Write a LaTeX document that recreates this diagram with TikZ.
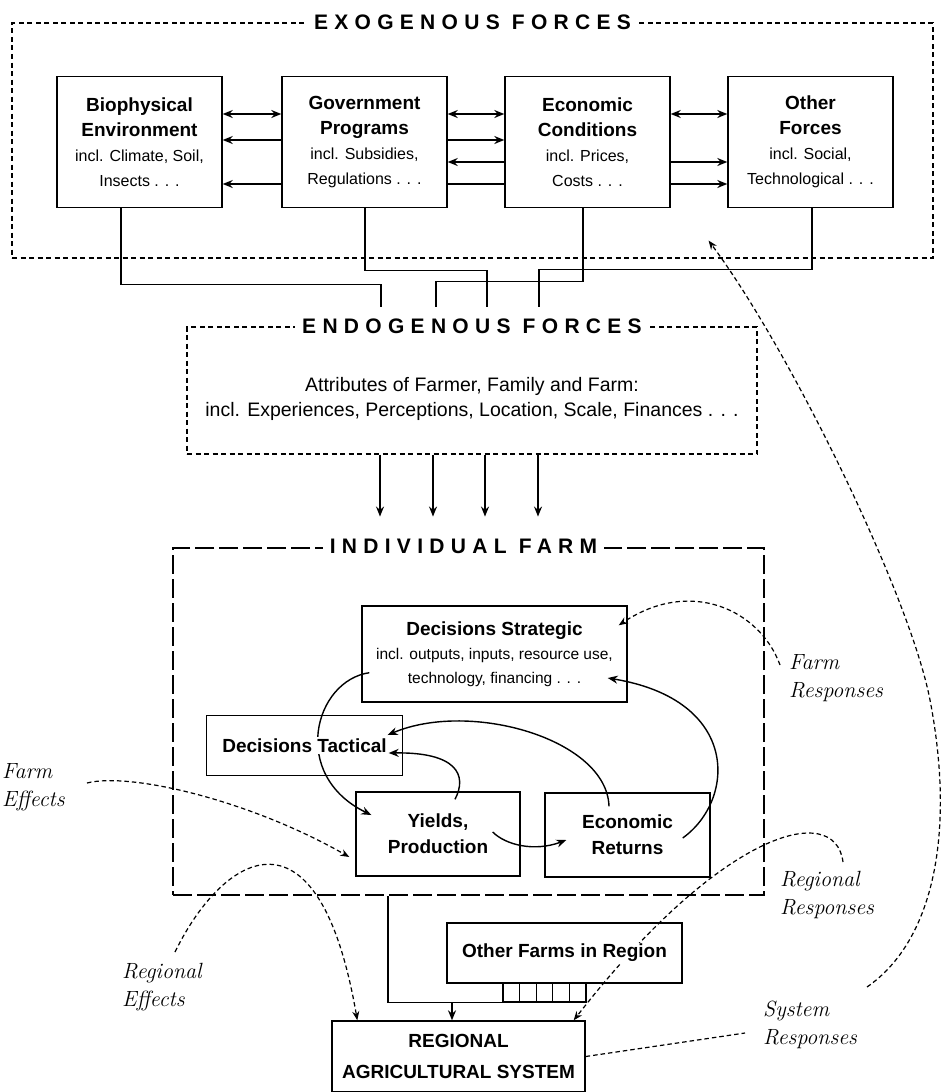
\documentclass[tikz,border=0pt]{standalone}
\usepackage{fontspec}
\setsansfont{Liberation Sans}
\usetikzlibrary{arrows.meta,backgrounds}
\setlength{\fboxsep}{1.5pt}
\newcommand{\boldHead}[1]{{\bfseries\fontsize{19}{25}\selectfont #1}}
\newcommand{\inclLine}[1]{{\mdseries\fontsize{15.5}{24}\selectfont #1}}

\begin{document}
\begin{tikzpicture}
[x=1pt,y=-1pt,
forceBox/.style={draw,line width=1.4pt,minimum width=165pt,minimum height=131pt,
inner sep=0pt,align=center,font=\sffamily\fontsize{16}{25}\selectfont},
farmBox/.style={draw,line width=1.4pt,inner sep=0pt,align=center,
font=\sffamily\bfseries\fontsize{19}{26}\selectfont},
cellBox/.style={draw,line width=1.1pt,minimum width=16.6pt,minimum height=19pt,inner sep=0pt},
outerFrame/.style={draw,line width=1.1pt,dash pattern=on 5pt off 3.5pt,inner sep=0pt},
farmFrame/.style={draw,line width=2.6pt,dash pattern=on 19pt off 5pt,inner sep=0pt},
frameTitle/.style={fill=white,inner xsep=7pt,inner ysep=2pt,
font=\sffamily\bfseries\fontsize{21}{21}\selectfont\addfontfeature{LetterSpace=30}},
linkLine/.style={line width=1.4pt},
flowArrow/.style={line width=1.4pt,-{Stealth[length=10pt,width=8pt]}},
twoWay/.style={line width=1.4pt,{Stealth[length=10pt,width=8pt]}-{Stealth[length=10pt,width=8pt]}},
loopArrow/.style={line width=1.4pt,-{Stealth[length=10pt,width=8pt]}},
feedLine/.style={line width=1.2pt,dash pattern=on 4.5pt off 3pt,-{Stealth[length=9pt,width=7pt]}},
feedPlain/.style={line width=1.2pt,dash pattern=on 4.5pt off 3pt},
handLabel/.style={anchor=west,align=left,inner sep=0pt,font=\rmfamily\itshape\fontsize{22}{28}\selectfont}]
  \useasboundingbox (0,0) rectangle (945,1092);

  \node[outerFrame,minimum width=921pt,minimum height=235pt] (exoFrame) at (472.5,140.5) {};
  \node[frameTitle] (exoTitle) at (exoFrame.north) {EXOGENOUS FORCES};

  \node[forceBox] (bio)   at (139.5,142) {\boldHead{Biophysical}\\\boldHead{Environment}\\incl. Climate, Soil,\\Insects . . .};
  \node[forceBox] (gov)   at (364.5,142) {\boldHead{Government}\\\boldHead{Programs}\\incl. Subsidies,\\Regulations . . .};
  \node[forceBox] (econ)  at (587.5,142) {\boldHead{Economic}\\\boldHead{Conditions}\\incl. Prices,\\Costs . . .};
  \node[forceBox] (other) at (810.5,142) {\boldHead{Other}\\\boldHead{Forces}\\incl. Social,\\Technological . . .};

  \draw[twoWay] ([yshift=28pt]bio.east) -- ([yshift=28pt]gov.west);
  \draw[flowArrow] ([yshift=2pt]gov.west) -- ([yshift=2pt]bio.east);
  \draw[flowArrow] ([yshift=-42pt]gov.west) -- ([yshift=-42pt]bio.east);
  \draw[twoWay] ([yshift=28pt]gov.east) -- ([yshift=28pt]econ.west);
  \draw[flowArrow] ([yshift=2pt]gov.east) -- ([yshift=2pt]econ.west);
  \draw[flowArrow] ([yshift=-20pt]econ.west) -- ([yshift=-20pt]gov.east);
  \draw[linkLine] ([yshift=-42pt]gov.east) -- ([yshift=-42pt]econ.west);
  \draw[twoWay] ([yshift=28pt]econ.east) -- ([yshift=28pt]other.west);
  \draw[flowArrow] ([yshift=-20pt]econ.east) -- ([yshift=-20pt]other.west);
  \draw[flowArrow] ([yshift=-42pt]econ.east) -- ([yshift=-42pt]other.west);

  \coordinate (inA) at (381,307);
  \coordinate (inB) at (436,307);
  \coordinate (inC) at (487,307);
  \coordinate (inD) at (539,307);
  \draw[linkLine] ([xshift=-18.5pt]bio.south) -- ++(0,76) -| (inA);
  \draw[linkLine] ([xshift=0.5pt]gov.south) -- ++(0,62.5) -| (inC);
  \draw[linkLine] ([xshift=-4.5pt]econ.south) -- ++(0,73.5) -| (inB);
  \draw[linkLine] ([xshift=1.5pt]other.south) -- ++(0,61.5) -| (inD);

  \node[outerFrame,minimum width=570pt,minimum height=127pt] (endoFrame) at (472,390.5) {};
  \node[frameTitle] (endoTitle) at (endoFrame.north) {ENDOGENOUS FORCES};
  \node[align=center,inner sep=0pt,font=\sffamily\fontsize{19.5}{25}\selectfont] (endoText) at (472,399)
    {Attributes of Farmer, Family and Farm:\\incl. Experiences, Perceptions, Location, Scale, Finances . . .};
  \foreach \dx in {-92,-39,13,66}
    \draw[flowArrow] ([xshift=\dx pt]endoFrame.south) -- ++(0,62);

  \node[farmFrame,minimum width=591pt,minimum height=347pt] (farmFrame) at (468.5,721.5) {};
  \node[frameTitle,xshift=-5pt] (farmTitle) at (farmFrame.north) {INDIVIDUAL FARM};

  \node[farmBox,minimum width=265pt,minimum height=96pt,font=\sffamily\bfseries\fontsize{19}{24}\selectfont] (strategic) at (494.5,654)
    {Decisions Strategic\\\inclLine{incl. outputs, inputs, resource use,}\\\inclLine{technology, financing . . .}};
  \node[farmBox,minimum width=196pt,minimum height=60pt] (tactical) at (304.5,745.5) {\colorbox{white}{Decisions Tactical}};
  \node[farmBox,minimum width=164pt,minimum height=84pt] (yields) at (438,834) {Yields,\\Production};
  \node[farmBox,minimum width=165pt,minimum height=84pt] (returns) at (627.5,835) {Economic\\Returns};

  \node[farmBox,minimum width=235pt,minimum height=60pt] (otherFarms) at (564.5,953) {\colorbox{white}{Other Farms in Region}};
  \foreach \i in {0,...,4}
    \node[cellBox] (cell\i) at ({511.3+16.6*\i},992.5) {};
  \node[farmBox,minimum width=253pt,minimum height=71pt,font=\sffamily\bfseries\fontsize{19}{31}\selectfont] (regional) at (458.5,1056.5)
    {REGIONAL\\AGRICULTURAL SYSTEM};
  \draw[linkLine] ([xshift=-80.5pt]farmFrame.south) |- (cell0.south west);
  \coordinate (joinPt) at (452,1002);
  \draw[flowArrow] (joinPt) -- (joinPt |- regional.north);

  \begin{scope}[on background layer]
    \draw[loopArrow] ([shift={(8pt,30pt)}]strategic.south west) .. controls +(-55,8) and +(-82,-40) .. ([shift={(16pt,19pt)}]yields.west);
    \draw[loopArrow] ([shift={(17pt,-8pt)}]yields.north) .. controls +(13,-25) and +(67,-1) .. ([shift={(-14.5pt,-7.5pt)}]tactical.east);
    \draw[loopArrow] ([shift={(-18.5pt,-14pt)}]returns.north) .. controls +(-2,-67) and +(83,-35) .. ([shift={(-15.5pt,10.5pt)}]tactical.east);
    \draw[loopArrow] ([shift={(-28pt,-3pt)}]returns.east) .. controls +(53,-38) and +(133,22) .. ([shift={(-20pt,-24pt)}]strategic.east);
    \draw[loopArrow] ([shift={(-28pt,2pt)}]yields.east) .. controls +(13,13) and +(-32,12) .. ([shift={(22pt,-5pt)}]returns.west);

    \coordinate (farmEffStart) at (87,783);
    \coordinate (regEffStart) at (175,952);
    \coordinate (farmRespStart) at (780,665);
    \coordinate (regRespStart) at (843,862);
    \coordinate (sysStart) at (867,987);
    \coordinate (sysBend) at (930,700);
    \coordinate (sysTail) at (745,1033);
    \draw[feedLine] (farmEffStart) .. controls +(43,-11) and +(-100,-57) .. ([shift={(-6pt,-23pt)}]yields.west);
    \draw[feedLine] (regEffStart) .. controls +(50,-102) and +(-38,-221) .. ([xshift=26pt]regional.north west);
    \draw[feedLine] (farmRespStart) .. controls +(-20,-55) and +(72,-48) .. ([shift={(-9pt,-20pt)}]strategic.north east);
    \draw[feedLine] (regRespStart) .. controls +(-8,-62) and +(147,-189) .. ([xshift=-12pt]regional.north east);
    \draw[feedLine] (sysStart) .. controls +(68,-47) and +(25,130) .. (sysBend)
      .. controls +(-20,-104) and +(82,110) .. ([shift={(-225pt,18pt)}]exoFrame.south east);
    \draw[feedPlain] (regional.east) -- (sysTail);
  \end{scope}

  \node[handLabel] (farmEffLabel) at (2,787) {Farm\\Effects};
  \node[handLabel] (regEffLabel) at (122,987) {Regional\\Effects};
  \node[handLabel] (farmRespLabel) at (789,678) {Farm\\Responses};
  \node[handLabel] (regRespLabel) at (780,895) {Regional\\Responses};
  \node[handLabel] (sysRespLabel) at (763,1025) {System\\Responses};
\end{tikzpicture}
\end{document}
